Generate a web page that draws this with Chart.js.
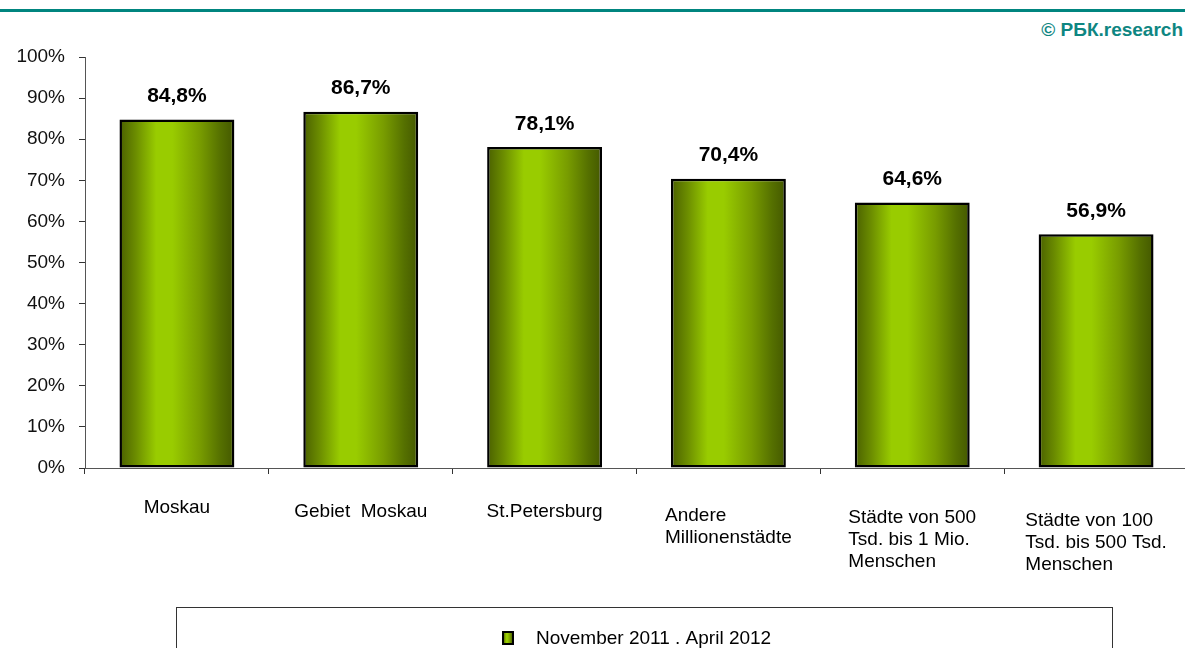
<!DOCTYPE html>
<html>
<head>
<meta charset="utf-8">
<script src="https://cdn.jsdelivr.net/npm/chart.js@4.4.1/dist/chart.umd.min.js"></script>
<style>
  html, body { margin: 0; padding: 0; background: #fff; overflow: hidden; }
  #wrap { position: relative; width: 1185px; height: 648px; overflow: hidden; }
  #topline { position: absolute; left: 0; top: 9px; width: 1185px; height: 3px; background: #00857f; }
  #copy { position: absolute; right: 2px; top: 19px; font: bold 19px "Liberation Sans", Arial, sans-serif; color: #0e8682; }
  #c { position: absolute; left: 0; top: 0; }
</style>
</head>
<body>
<div id="wrap">
  <div id="topline"></div>
  <div id="copy">© РБК.research</div>
  <canvas id="c" width="1190" height="690"></canvas>
</div>
<script>
const categories = [
  ["Moskau"],
  ["Gebiet  Moskau"],
  ["St.Petersburg"],
  ["Andere", "Millionenstädte"],
  ["Städte von 500", "Tsd. bis 1 Mio.", "Menschen"],
  ["Städte von 100", "Tsd. bis 500 Tsd.", "Menschen"]
];
const values = [84.8, 86.7, 78.1, 70.4, 64.6, 56.9];
const valueLabels = ["84,8%", "86,7%", "78,1%", "70,4%", "64,6%", "56,9%"];
const seriesName = "November 2011 . April 2012";
const yTicks = [0, 10, 20, 30, 40, 50, 60, 70, 80, 90, 100];

const FONT = '"Liberation Sans", Arial, sans-serif';
const BAR_PCT = 0.625;

function barGradient(ctx, x0, x1) {
  const g = ctx.createLinearGradient(x0, 0, x1, 0);
  g.addColorStop(0, '#4a6000');
  g.addColorStop(0.14, '#6b8c00');
  g.addColorStop(0.32, '#99cc00');
  g.addColorStop(0.46, '#99cc00');
  g.addColorStop(0.7, '#789c00');
  g.addColorStop(0.88, '#557000');
  g.addColorStop(1, '#445800');
  return g;
}

function scriptedFill(c) {
  const chart = c.chart;
  const xs = chart.scales && chart.scales.x;
  if (!xs || c.dataIndex === undefined || !isFinite(xs.width) || xs.width <= 0) return '#99cc00';
  const cx = xs.getPixelForValue(c.dataIndex);
  const w = (xs.width / chart.data.labels.length) * BAR_PCT;
  return barGradient(chart.ctx, cx - w / 2, cx + w / 2);
}

const valueLabelPlugin = {
  id: 'valueLabels',
  afterDatasetsDraw(chart) {
    const ctx = chart.ctx;
    const meta = chart.getDatasetMeta(0);
    ctx.save();
    ctx.font = 'bold 21px ' + FONT;
    ctx.fillStyle = '#000';
    ctx.textAlign = 'center';
    ctx.textBaseline = 'middle';
    meta.data.forEach((bar, i) => {
      ctx.fillText(valueLabels[i], bar.x, bar.y - 23);
    });
    ctx.restore();
  }
};

const catLabelPlugin = {
  id: 'catLabels',
  afterDraw(chart) {
    const ctx = chart.ctx;
    const xs = chart.scales.x;
    const shift = [0, 4, 4, 8, 10, 13];
    ctx.save();
    ctx.font = '19px ' + FONT;
    ctx.fillStyle = '#000';
    ctx.textAlign = 'left';
    ctx.textBaseline = 'middle';
    categories.forEach((lines, i) => {
      const cx = xs.getPixelForValue(i);
      const w = Math.max(...lines.map(l => ctx.measureText(l).width));
      const left = cx - w / 2;
      lines.forEach((l, k) => {
        ctx.fillText(l, left, xs.top + 40 + shift[i] + k * 22);
      });
    });
    ctx.restore();
  }
};

const legendPlugin = {
  id: 'boxLegend',
  afterDraw(chart) {
    const ctx = chart.ctx;
    ctx.save();
    ctx.strokeStyle = '#333';
    ctx.lineWidth = 1;
    ctx.strokeRect(176.5, 607.5, 936, 100);
    const mx = 503, my = 632, mw = 10, mh = 12;
    ctx.fillStyle = barGradient(ctx, mx, mx + mw);
    ctx.fillRect(mx, my, mw, mh);
    ctx.lineWidth = 2;
    ctx.strokeStyle = '#000';
    ctx.strokeRect(mx, my, mw, mh);
    ctx.font = '19px ' + FONT;
    ctx.fillStyle = '#000';
    ctx.textAlign = 'left';
    ctx.textBaseline = 'middle';
    ctx.fillText(chart.data.datasets[0].label, 536, 639);
    ctx.restore();
  }
};

new Chart(document.getElementById('c'), {
  type: 'bar',
  data: {
    labels: categories.map(c => c.join(' ')),
    datasets: [{
      label: seriesName,
      data: values,
      backgroundColor: scriptedFill,
      borderColor: '#000',
      borderWidth: 2.5,
      borderSkipped: false,
      categoryPercentage: 1,
      barPercentage: BAR_PCT
    }]
  },
  options: {
    responsive: false,
    animation: false,
    events: [],
    layout: { padding: { top: 57, right: 2, bottom: 0, left: 0 } },
    plugins: { legend: { display: false }, tooltip: { enabled: false } },
    scales: {
      x: {
        grid: { drawOnChartArea: false, tickLength: 6, color: '#333', offset: true },
        border: { color: '#555', width: 1 },
        ticks: { display: false },
        afterFit(s) { s.height = 690 - 468; }
      },
      y: {
        min: 0, max: 100,
        afterBuildTicks(s) { s.ticks = yTicks.map(v => ({ value: v })); },
        grid: { drawOnChartArea: false, tickLength: 6, color: '#333' },
        border: { color: '#555', width: 1 },
        ticks: {
          padding: 14,
          color: '#111',
          font: { family: FONT, size: 19 },
          callback: v => v + '%'
        },
        afterFit(s) { s.width = 85; }
      }
    }
  },
  plugins: [valueLabelPlugin, catLabelPlugin, legendPlugin]
});
</script>
</body>
</html>
